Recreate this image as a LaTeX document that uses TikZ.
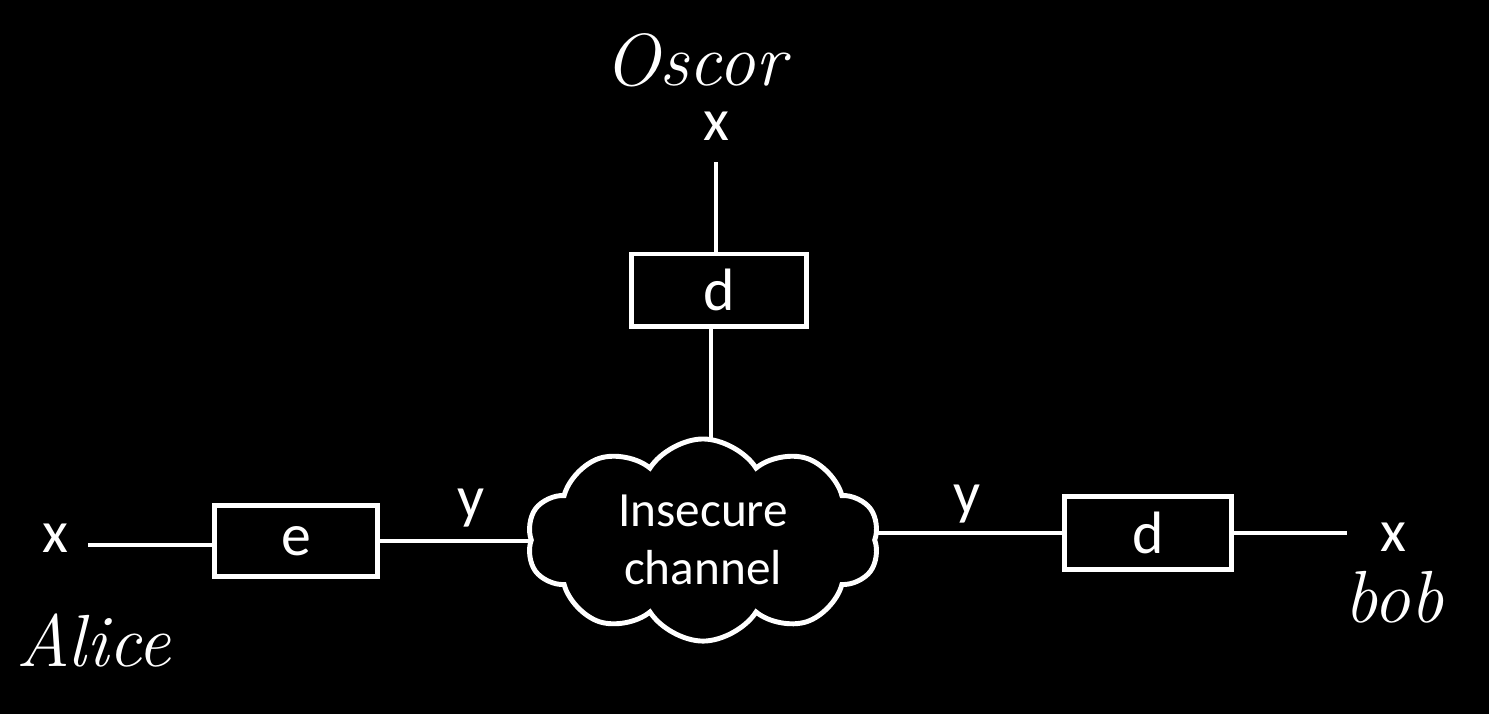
\documentclass[tikz,border=0pt]{standalone}
\usepackage{fontspec}
\setmainfont{Carlito}
\newfontfamily\handfont{Latin Modern Roman}
\usetikzlibrary{shapes.symbols}

\begin{document}
\begin{tikzpicture}[x=0.01cm, y=-0.01cm, white, line width=1.4pt,
		lbl/.style={font=\fontsize{17}{20}\selectfont, inner sep=0pt},
		hand/.style={font=\handfont\itshape\fontsize{21}{24}\selectfont, inner sep=0pt},
		box/.style={draw, inner sep=0pt, outer sep=0pt, font=\fontsize{17}{20}\selectfont}]
		\fill[black] (0,0) rectangle (1489,714);
		\useasboundingbox (0,0) rectangle (1489,714);
		\node[cloud, draw, cloud puffs=10, cloud puff arc=115, aspect=1.7, minimum width=3.52cm, minimum height=2.02cm, inner sep=0pt, outer sep=0pt, align=center, font=\fontsize{14}{16.5}\selectfont] (cl) at (703,540) {Insecure\\channel};
		\node[box, minimum width=1.62cm, minimum height=0.71cm] (eB) at (296,541) {e};
		\node[box, minimum width=1.67cm, minimum height=0.73cm] (dB) at (1148,533) {d};
		\node[box, minimum width=1.75cm, minimum height=0.72cm] (dO) at (719,290) {d};
		\node[lbl] (xA) at (55,538) {x};
		\node[lbl] (xB) at (1393,537) {x};
		\node[lbl] (xO) at (716,126) {x};
		\node[lbl] (yA) at (471,508) {y};
		\node[lbl] (yB) at (967,504) {y};
		\node[hand] (alice) at (94,640) {Alice};
		\node[hand] (bob) at (1394,597) {bob};
		\node[hand] (oscor) at (695,60) {Oscor};
		\coordinate (a0) at (88,545);
		\coordinate (b0) at (1347,530);
		\coordinate (o0) at (716,162);
		\draw (a0) -- (a0 -| eB.west);
		\draw (eB.east) -- (eB.east -| cl.west);
		\draw (dB.west) -- (dB.west -| cl.east);
		\draw (dB.east) -- (dB.east -| b0);
		\draw (o0) -- (o0 |- dO.north);
		\draw (711,0 |- dO.south) -- (711,0 |- cl.north);
	\end{tikzpicture}
\end{document}
